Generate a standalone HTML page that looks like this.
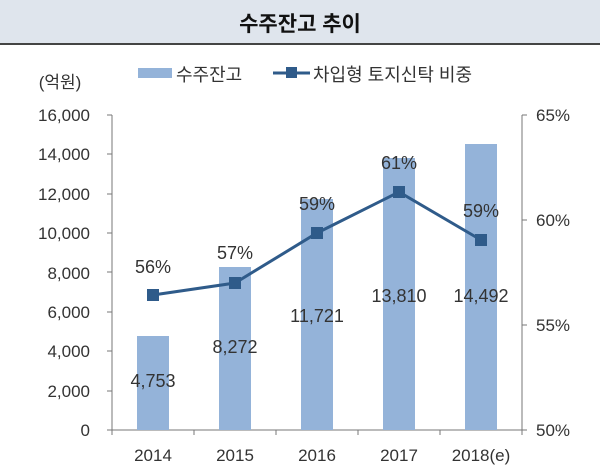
<!DOCTYPE html>
<html><head><meta charset="utf-8"><style>
body{margin:0;background:#fff;width:600px;height:471px;overflow:hidden;font-family:"Liberation Sans","Noto Sans CJK KR",sans-serif;}
</style></head><body>
<svg width="600" height="471" xmlns="http://www.w3.org/2000/svg" font-family="Liberation Sans, Noto Sans CJK KR, sans-serif">
<rect x="0" y="0" width="600" height="43" fill="#dfe5ed"/>
<line x1="0" y1="44" x2="600" y2="44" stroke="#444" stroke-width="2"/>
<text x="300" y="31" text-anchor="middle" font-size="21" font-weight="bold" fill="#111">수주잔고 추이</text>
<text x="60" y="88" text-anchor="middle" font-size="17" fill="#333">(억원)</text>
<rect x="138" y="68" width="34" height="10" fill="#94b3d9"/>
<text x="176" y="81" font-size="18" fill="#333">수주잔고</text>
<line x1="273" y1="73" x2="310" y2="73" stroke="#2f5b8a" stroke-width="3"/>
<rect x="286" y="67" width="11" height="11" fill="#2f5b8a"/>
<text x="313" y="81" font-size="18" fill="#333">차입형 토지신탁 비중</text>
<g font-size="17" fill="#333" text-anchor="end">
<text x="90" y="121">16,000</text><text x="90" y="160">14,000</text><text x="90" y="200">12,000</text><text x="90" y="239">10,000</text><text x="90" y="279">8,000</text><text x="90" y="318">6,000</text><text x="90" y="357">4,000</text><text x="90" y="397">2,000</text><text x="90" y="436">0</text>
</g>
<g font-size="17" fill="#333">
<text x="536" y="121">65%</text><text x="536" y="226">60%</text><text x="536" y="331">55%</text><text x="536" y="436">50%</text>
</g>
<g stroke="#777" stroke-width="1">
<line x1="112" y1="115" x2="112" y2="430"/>
<line x1="522" y1="115" x2="522" y2="430"/>
<line x1="112" y1="430" x2="522" y2="430"/>
<line x1="107" y1="115" x2="112" y2="115"/><line x1="107" y1="154" x2="112" y2="154"/><line x1="107" y1="194" x2="112" y2="194"/><line x1="107" y1="233" x2="112" y2="233"/><line x1="107" y1="272" x2="112" y2="272"/><line x1="107" y1="312" x2="112" y2="312"/><line x1="107" y1="351" x2="112" y2="351"/><line x1="107" y1="391" x2="112" y2="391"/><line x1="107" y1="430" x2="112" y2="430"/>
<line x1="522" y1="115" x2="527" y2="115"/><line x1="522" y1="220" x2="527" y2="220"/><line x1="522" y1="325" x2="527" y2="325"/><line x1="522" y1="430" x2="527" y2="430"/>
<line x1="194" y1="430" x2="194" y2="435"/><line x1="276" y1="430" x2="276" y2="435"/><line x1="358" y1="430" x2="358" y2="435"/><line x1="440" y1="430" x2="440" y2="435"/><line x1="522" y1="430" x2="522" y2="435"/><line x1="112" y1="430" x2="112" y2="435"/>
</g>
<g fill="#94b3d9">
<rect x="137" y="336" width="32" height="94"/>
<rect x="219" y="267" width="32" height="163"/>
<rect x="301" y="199" width="32" height="231"/>
<rect x="383" y="158" width="32" height="272"/>
<rect x="465" y="144" width="32" height="286"/>
</g>
<polyline points="153,295 235,283 317,233 399,192 481,240" fill="none" stroke="#2f5b8a" stroke-width="3"/>
<g fill="#2f5b8a">
<rect x="147" y="289" width="12" height="12"/><rect x="229" y="277" width="12" height="12"/><rect x="311" y="227" width="12" height="12"/><rect x="393" y="186" width="12" height="12"/><rect x="475" y="234" width="12" height="12"/>
</g>
<g font-size="18" fill="#333" text-anchor="middle">
<text x="153" y="273">56%</text><text x="235" y="259">57%</text><text x="317" y="210">59%</text><text x="399" y="169">61%</text><text x="481" y="217">59%</text>
<text x="153" y="387">4,753</text><text x="235" y="353">8,272</text><text x="317" y="322">11,721</text><text x="399" y="302">13,810</text><text x="481" y="302">14,492</text>
</g>
<g font-size="17" fill="#333" text-anchor="middle">
<text x="153" y="461">2014</text><text x="235" y="461">2015</text><text x="317" y="461">2016</text><text x="399" y="461">2017</text><text x="481" y="461">2018(e)</text>
</g>
</svg>
</body></html>
